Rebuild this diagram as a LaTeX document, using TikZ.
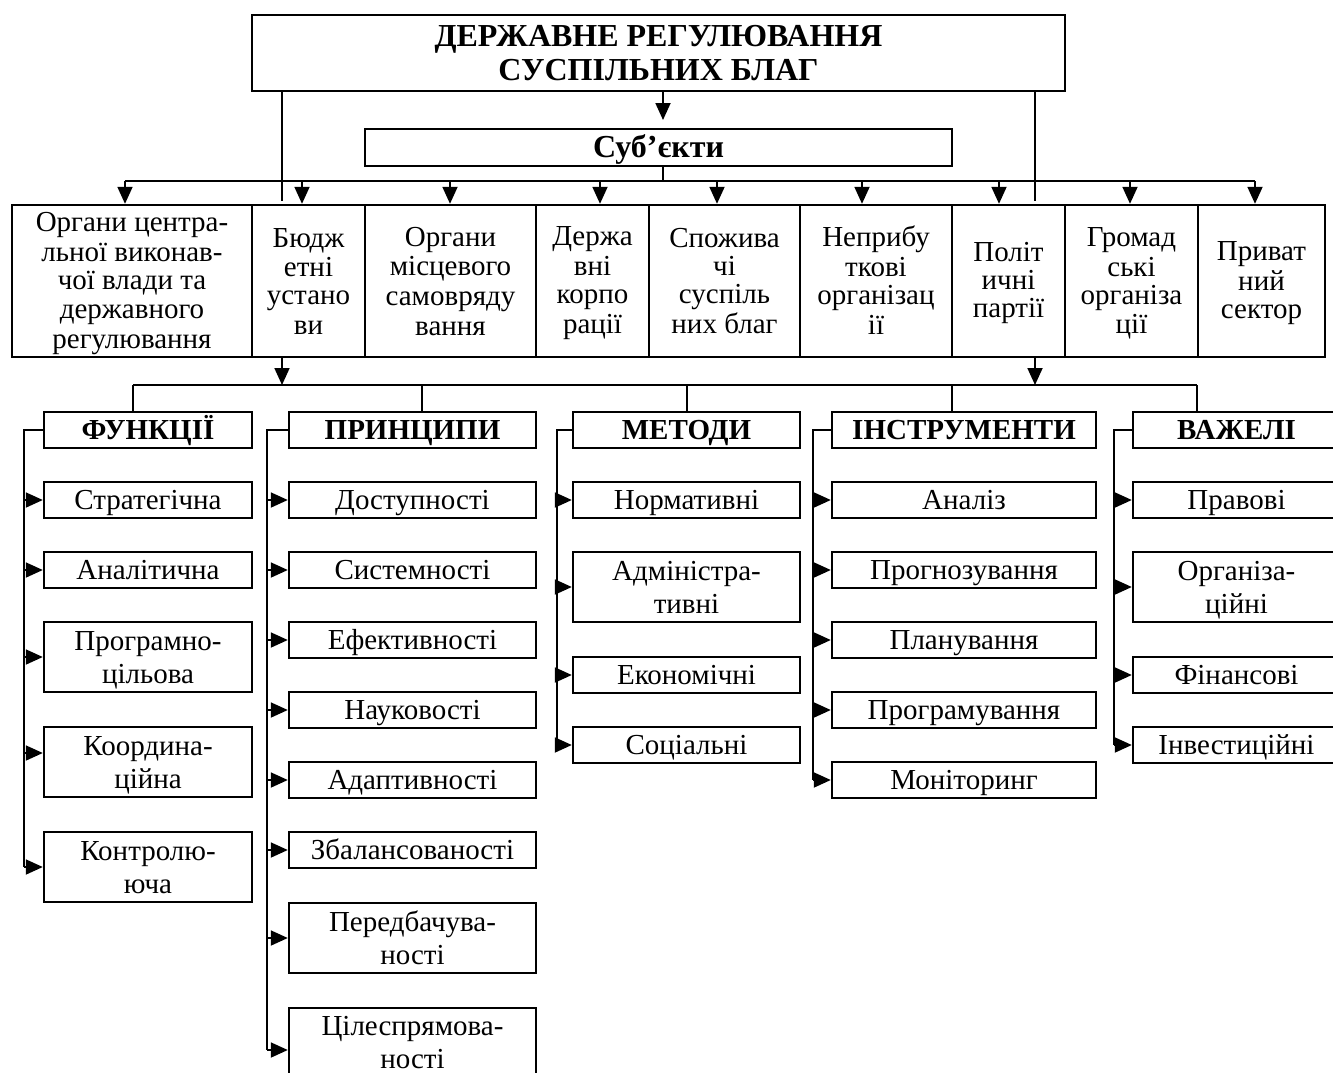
\documentclass[tikz,border=0pt]{standalone}
\usepackage{fontspec}
\usepackage{array}
\setmainfont{Liberation Serif}
\usetikzlibrary{arrows.meta}
% lines of a box, each with a fixed strut centred on the cap height
\newcommand\T[3]{{\renewcommand\arraystretch{0}\begin{tabular}{@{}>{\rule[-#2]{0pt}{\dimexpr #1+#2\relax}}c@{}}#3\end{tabular}}}
\tikzset{
  box/.style={draw, line width=2.4pt, inner sep=0pt, font=\fontsize{29}{33}\selectfont,
    execute at begin node={\def\csh{26.1pt}\def\csd{6.9pt}}},
  hbox/.style={box, font=\bfseries\fontsize{29}{33}\selectfont},
  ubox/.style={box, font=\bfseries\fontsize{32}{34}\selectfont,
    execute at begin node={\def\csh{27.1pt}\def\csd{5.9pt}}},
  tbox/.style={box, font=\bfseries\fontsize{32}{34}\selectfont,
    execute at begin node={\def\csh{27.6pt}\def\csd{6.4pt}}},
  sbox/.style={box, font=\fontsize{29}{28}\selectfont,
    execute at begin node={\def\csh{23.6pt}\def\csd{4.4pt}}},
  conn/.style={line width=1.8pt},
  arr/.style={conn, -{Triangle[length=17pt,width=15pt]}},
}
\newcommand\bx[7][box]{\node[#1, minimum width={(#5-#3)*1pt}, minimum height={(#6-#4)*1pt}] (#2) at ({(#3+#5)/2},{(#4+#6)/2}) {\T{\csh}{\csd}{#7}};}
\begin{document}
\begin{tikzpicture}[x=1pt,y=-1pt]
\useasboundingbox (0,0) rectangle (1333,1072);
\clip (0,0) rectangle (1333,1072);
% top
\bx[tbox]{top}{252}{15}{1065}{91}{ДЕРЖАВНЕ РЕГУЛЮВАННЯ\\СУСПІЛЬНИХ БЛАГ}
\bx[ubox]{subj}{365}{129}{952}{166}{Суб’єкти}
% subjects row
\bx[sbox]{s1}{12}{205}{252}{357}{Органи центра-\\льної виконав-\\чої влади та\\державного\\регулювання}
\bx[sbox]{s2}{252}{205}{365}{357}{Бюдж\\етні\\устано\\ви}
\bx[sbox]{s3}{365}{205}{536}{357}{Органи\\місцевого\\самовряду\\вання}
\bx[sbox]{s4}{536}{205}{649}{357}{Держа\\вні\\корпо\\рації}
\bx[sbox]{s5}{649}{205}{800}{357}{Спожива\\чі\\суспіль\\них благ}
\bx[sbox]{s6}{800}{205}{952}{357}{Неприбу\\ткові\\організац\\ії}
\bx[sbox]{s7}{952}{205}{1065}{357}{Політ\\ичні\\партії}
\bx[sbox]{s8}{1065}{205}{1198}{357}{Громад\\ські\\організа\\ції}
\bx[sbox]{s9}{1198}{205}{1325}{357}{Приват\\ний\\сектор}
% headers
\bx[hbox]{f0}{44}{412}{252}{448}{ФУНКЦІЇ}
\bx[hbox]{p0}{289}{412}{536}{448}{ПРИНЦИПИ}
\bx[hbox]{m0}{573}{412}{800}{448}{МЕТОДИ}
\bx[hbox]{i0}{832}{412}{1096}{448}{ІНСТРУМЕНТИ}
\bx[hbox]{v0}{1133}{412}{1340}{448}{ВАЖЕЛІ}
% functions
\bx{f1}{44}{482}{252}{518}{Стратегічна}
\bx{f2}{44}{552}{252}{588}{Аналітична}
\bx{f3}{44}{622}{252}{692}{Програмно-\\цільова}
\bx{f4}{44}{727}{252}{797}{Координа-\\ційна}
\bx{f5}{44}{832}{252}{902}{Контролю-\\юча}
% principles
\bx{p1}{289}{482}{536}{518}{Доступності}
\bx{p2}{289}{552}{536}{588}{Системності}
\bx{p3}{289}{622}{536}{658}{Ефективності}
\bx{p4}{289}{692}{536}{728}{Науковості}
\bx{p5}{289}{762}{536}{798}{Адаптивності}
\bx{p6}{289}{832}{536}{868}{Збалансованості}
\bx{p7}{289}{903}{536}{973}{Передбачува-\\ності}
\bx{p8}{289}{1008}{536}{1076}{Цілеспрямова-\\ності}
% methods
\bx{m1}{573}{482}{800}{518}{Нормативні}
\bx{m2}{573}{552}{800}{622}{Адміністра-\\тивні}
\bx{m3}{573}{657}{800}{693}{Економічні}
\bx{m4}{573}{727}{800}{763}{Соціальні}
% instruments
\bx{i1}{832}{482}{1096}{518}{Аналіз}
\bx{i2}{832}{552}{1096}{588}{Прогнозування}
\bx{i3}{832}{622}{1096}{658}{Планування}
\bx{i4}{832}{692}{1096}{728}{Програмування}
\bx{i5}{832}{762}{1096}{798}{Моніторинг}
% levers
\bx{v1}{1133}{482}{1340}{518}{Правові}
\bx{v2}{1133}{552}{1340}{622}{Організа-\\ційні}
\bx{v3}{1133}{657}{1340}{693}{Фінансові}
\bx{v4}{1133}{727}{1340}{763}{Інвестиційні}

% top connectors
\coordinate (ta) at (663,120);
\draw[arr] (top.south -| ta) -- (ta);
\coordinate (L) at (282,201);
\coordinate (R) at (1035,201);
\draw[conn] (top.south -| L) -- (L);
\draw[conn] (top.south -| R) -- (R);
\coordinate (us) at (663,181);
\draw[conn] (subj.south -| us) -- (us);
\coordinate (ub1) at (125,181);
\coordinate (ub2) at (1255,181);
\draw[conn] (ub1) -- (ub2);
\foreach \x/\n in {125/s1,302/s2,450/s3,600/s4,717/s5,862/s6,999/s7,1130/s8,1255/s9}
  \draw[arr] (\x,181) -- (\n.north -| \x,181);
% lower bus
\coordinate (bl) at (133,385);
\coordinate (bp) at (422,385);
\coordinate (bm) at (687,385);
\coordinate (bi) at (952,385);
\coordinate (br) at (1197,385);
\draw[conn] (bl) -- (br);
\draw[arr] (s2.south -| L) -- (L |- bl);
\draw[arr] (s7.south -| R) -- (R |- bl);
\draw[conn] (bl) -- (f0.north -| bl);
\draw[conn] (bp) -- (p0.north -| bp);
\draw[conn] (bm) -- (m0.north -| bm);
\draw[conn] (bi) -- (i0.north -| bi);
\draw[conn] (br) -- (v0.north -| br);
% functions column
\coordinate (fx) at (24,430);
\draw[conn] (f0.west) -- (f0.west -| fx) -- (f5.west -| fx);
\foreach \n in {f1,f2,f3,f5} \draw[arr] (\n.west -| fx) -- (\n.west);
\draw[arr] ([yshift=9pt]f4.west -| fx) -- ([yshift=9pt]f4.west);
% principles column
\coordinate (px) at (267,430);
\draw[conn] (p0.west) -- (p0.west -| px) -- ([yshift=-8pt]p8.west -| px);
\foreach \n in {p1,p2,p3,p4,p5,p6,p7} \draw[arr] (\n.west -| px) -- (\n.west);
\draw[arr] ([yshift=-8pt]p8.west -| px) -- ([yshift=-8pt]p8.west);
% methods column
\coordinate (mx) at (557,430);
\draw[conn] (m0.west) -- (m0.west -| mx) -- (m4.west -| mx);
\foreach \n in {m1,m2,m3,m4} \draw[arr] (\n.west -| mx) -- (\n.west);
% instruments column
\coordinate (ix) at (813,430);
\draw[conn] (i0.west) -- (i0.west -| ix) -- (i5.west -| ix);
\foreach \n in {i1,i2,i3,i4,i5} \draw[arr] (\n.west -| ix) -- (\n.west);
% levers column
\coordinate (vx) at (1114,430);
\draw[conn] (v0.west) -- (v0.west -| vx) -- (v4.west -| vx);
\foreach \n in {v1,v2,v3,v4} \draw[arr] (\n.west -| vx) -- (\n.west);
\end{tikzpicture}
\end{document}
